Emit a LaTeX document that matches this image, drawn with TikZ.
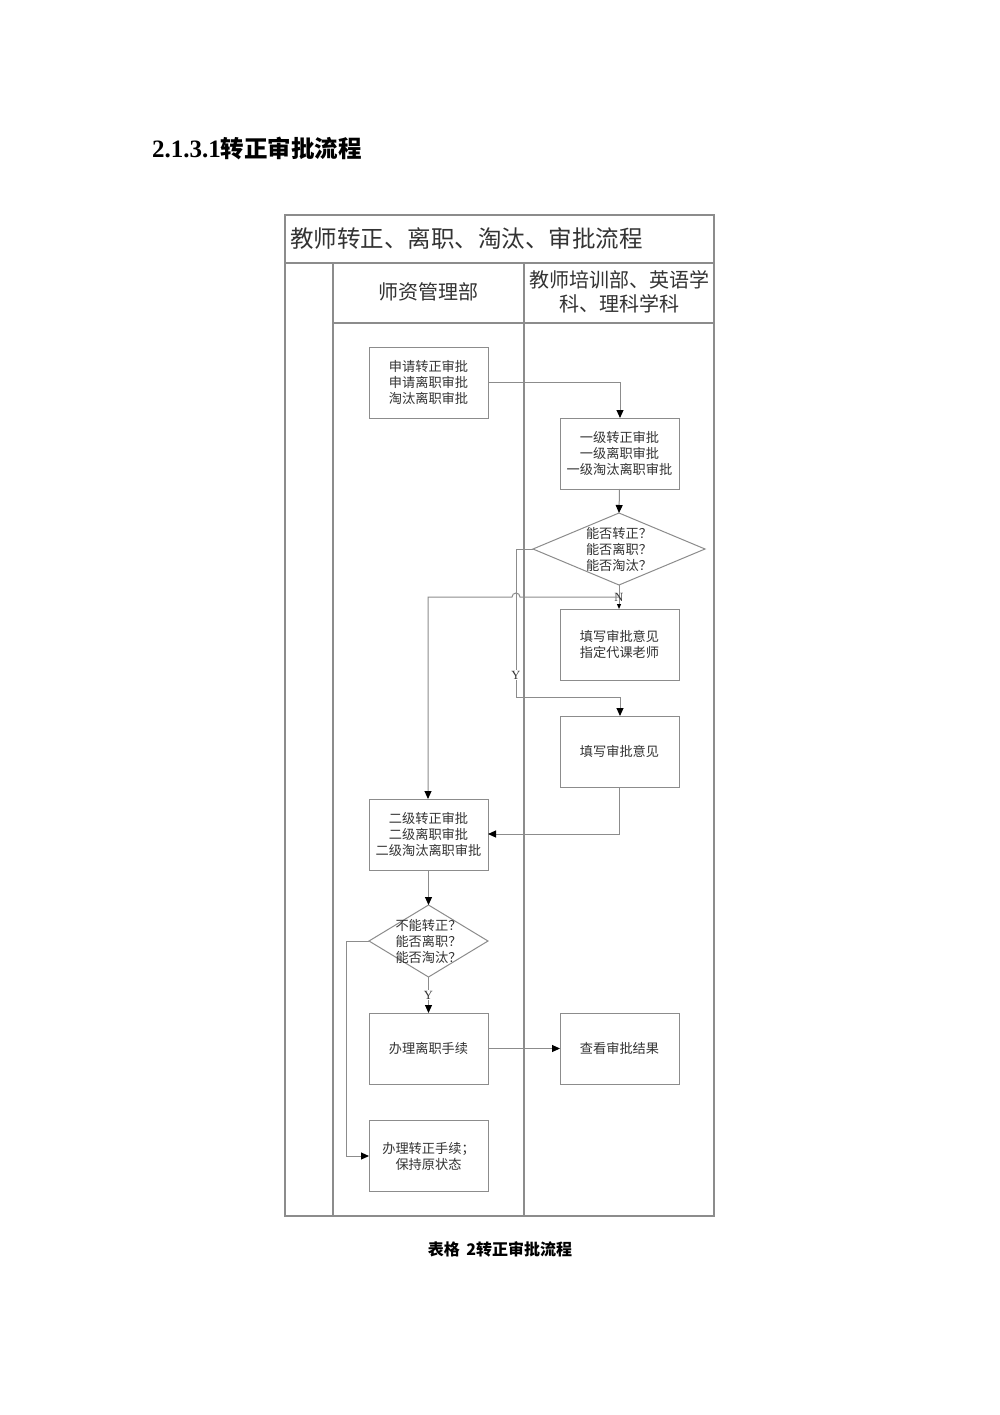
\documentclass[tikz,border=0pt]{standalone}
\usepackage{fontspec}
\setmainfont{Liberation Serif}
\newfontfamily\cjk{Noto Sans CJK SC}
\usetikzlibrary{shapes.geometric,arrows.meta}
\definecolor{ln}{HTML}{8C8C8C}
\definecolor{tx}{HTML}{333333}
\tikzset{
  box/.style={draw=ln, line width=1pt, rectangle, minimum width=119pt, minimum height=71pt, inner sep=0pt, outer sep=0pt, align=center, font=\cjk\fontsize{13.2}{16}\selectfont, text=tx},
  dia/.style={draw=ln, line width=1pt, diamond, inner sep=0pt, outer sep=0pt},
  dtxt/.style={align=center, font=\cjk\fontsize{13.2}{16}\selectfont, text=tx, inner sep=0pt},
  conn/.style={draw=ln, line width=1pt, -{Triangle[length=8pt,width=7pt,color=black]}},
  plain/.style={draw=ln, line width=1pt},
  frame/.style={draw=ln, line width=1.2pt},
  lbl/.style={font=\fontsize{12.5}{13}\selectfont, text=tx, inner sep=1pt}
}
\begin{document}
\begin{tikzpicture}[x=1pt,y=-1pt]
\useasboundingbox[fill=white] (0,0) rectangle (1000,1415);
% heading
\node[anchor=west, inner sep=0pt] (head) at (152,148) {\fontsize{25}{26}\selectfont\bfseries 2.1.3.1{\cjk\fontsize{23.5}{26}\selectfont 转正审批流程}};
% caption
\node[inner sep=0pt] (cap) at (500,1249) {\cjk\fontsize{16}{18}\selectfont\bfseries 表格 \,2转正审批流程};
% frame
\draw[frame] (285,215) rectangle (714,1216);
\draw[draw=ln, line width=2pt] (285,263) -- (714,263);
\draw[frame] (333,263) -- (333,1216);
\draw[frame] (524,263) -- (524,1216);
\draw[frame] (333,323) -- (714,323);
\node[anchor=west, inner sep=0pt, text=tx, font=\cjk\fontsize{23.5}{26}\selectfont] (title) at (290,239) {教师转正、离职、淘汰、审批流程};
\node[inner sep=0pt, text=tx, font=\cjk\fontsize{20}{22}\selectfont] (lane1) at (428.5,292) {师资管理部};
\node[inner sep=0pt, text=tx, align=center, font=\cjk\fontsize{20}{24}\selectfont] (lane2) at (619,292) {教师培训部、英语学\\科、理科学科};
% boxes
\node[box] (b1) at (428.5,382.5) {申请转正审批\\申请离职审批\\淘汰离职审批};
\node[box] (b2) at (619.5,453.5) {一级转正审批\\一级离职审批\\一级淘汰离职审批};
\node[dia, minimum width=172pt, minimum height=72pt] (d1) at (619,549) {};
\node[dtxt] (d1t) at (d1.center) {能否转正？\\能否离职？\\能否淘汰？};
\node[box] (b3) at (619.5,644.5) {填写审批意见\\指定代课老师};
\node[box] (b4) at (619.5,751.5) {填写审批意见};
\node[box] (b5) at (428.5,834.5) {二级转正审批\\二级离职审批\\二级淘汰离职审批};
\node[dia, minimum width=119pt, minimum height=72pt] (d2) at (428.5,941) {};
\node[dtxt] (d2t) at (d2.center) {不能转正？\\能否离职？\\能否淘汰？};
\node[box] (b6) at (428.5,1048.5) {办理离职手续};
\node[box] (b7) at (619.5,1048.5) {查看审批结果};
\node[box] (b8) at (428.5,1156) {办理转正手续；\\保持原状态};
% coordinates
\coordinate (nsplit) at (619,597);
\coordinate (hopR) at (520,597);
% connectors
\draw[conn] (b1.east |- 0,382) -- (620,382) -- (620,418);
\draw[conn] (b2.south) -- (d1.north);
\draw[plain] (d1.south) -- (nsplit);
\draw[draw=ln, line width=1pt, -{Triangle[length=5pt,width=4pt,color=black]}] (nsplit) -- (b3.north -| nsplit);
\node[lbl] (nlab) at (619,597) {N};
\draw[conn] (nsplit) -- (hopR) arc[start angle=0, end angle=180, radius=4pt] -- (428,597) -- (b5.north -| 428,0);
\draw[conn] (d1.west) -- (516,549) -- (516,697) -- (620,697) -- (b4.north -| 620,0);
\node[lbl, fill=white] (ylab1) at (516,675) {Y};
\draw[conn] (b4.south) -- (619.5,834) -- (b5.east |- 0,834);
\draw[conn] (b5.south) -- (d2.north);
\draw[conn] (d2.south) -- (b6.north);
\node[lbl, fill=white] (ylab2) at (428.5,995) {Y};
\draw[conn] (d2.west) -- (346,941) -- (346,1156) -- (b8.west);
\draw[conn] (b6.east) -- (b7.west);
\end{tikzpicture}
\end{document}
